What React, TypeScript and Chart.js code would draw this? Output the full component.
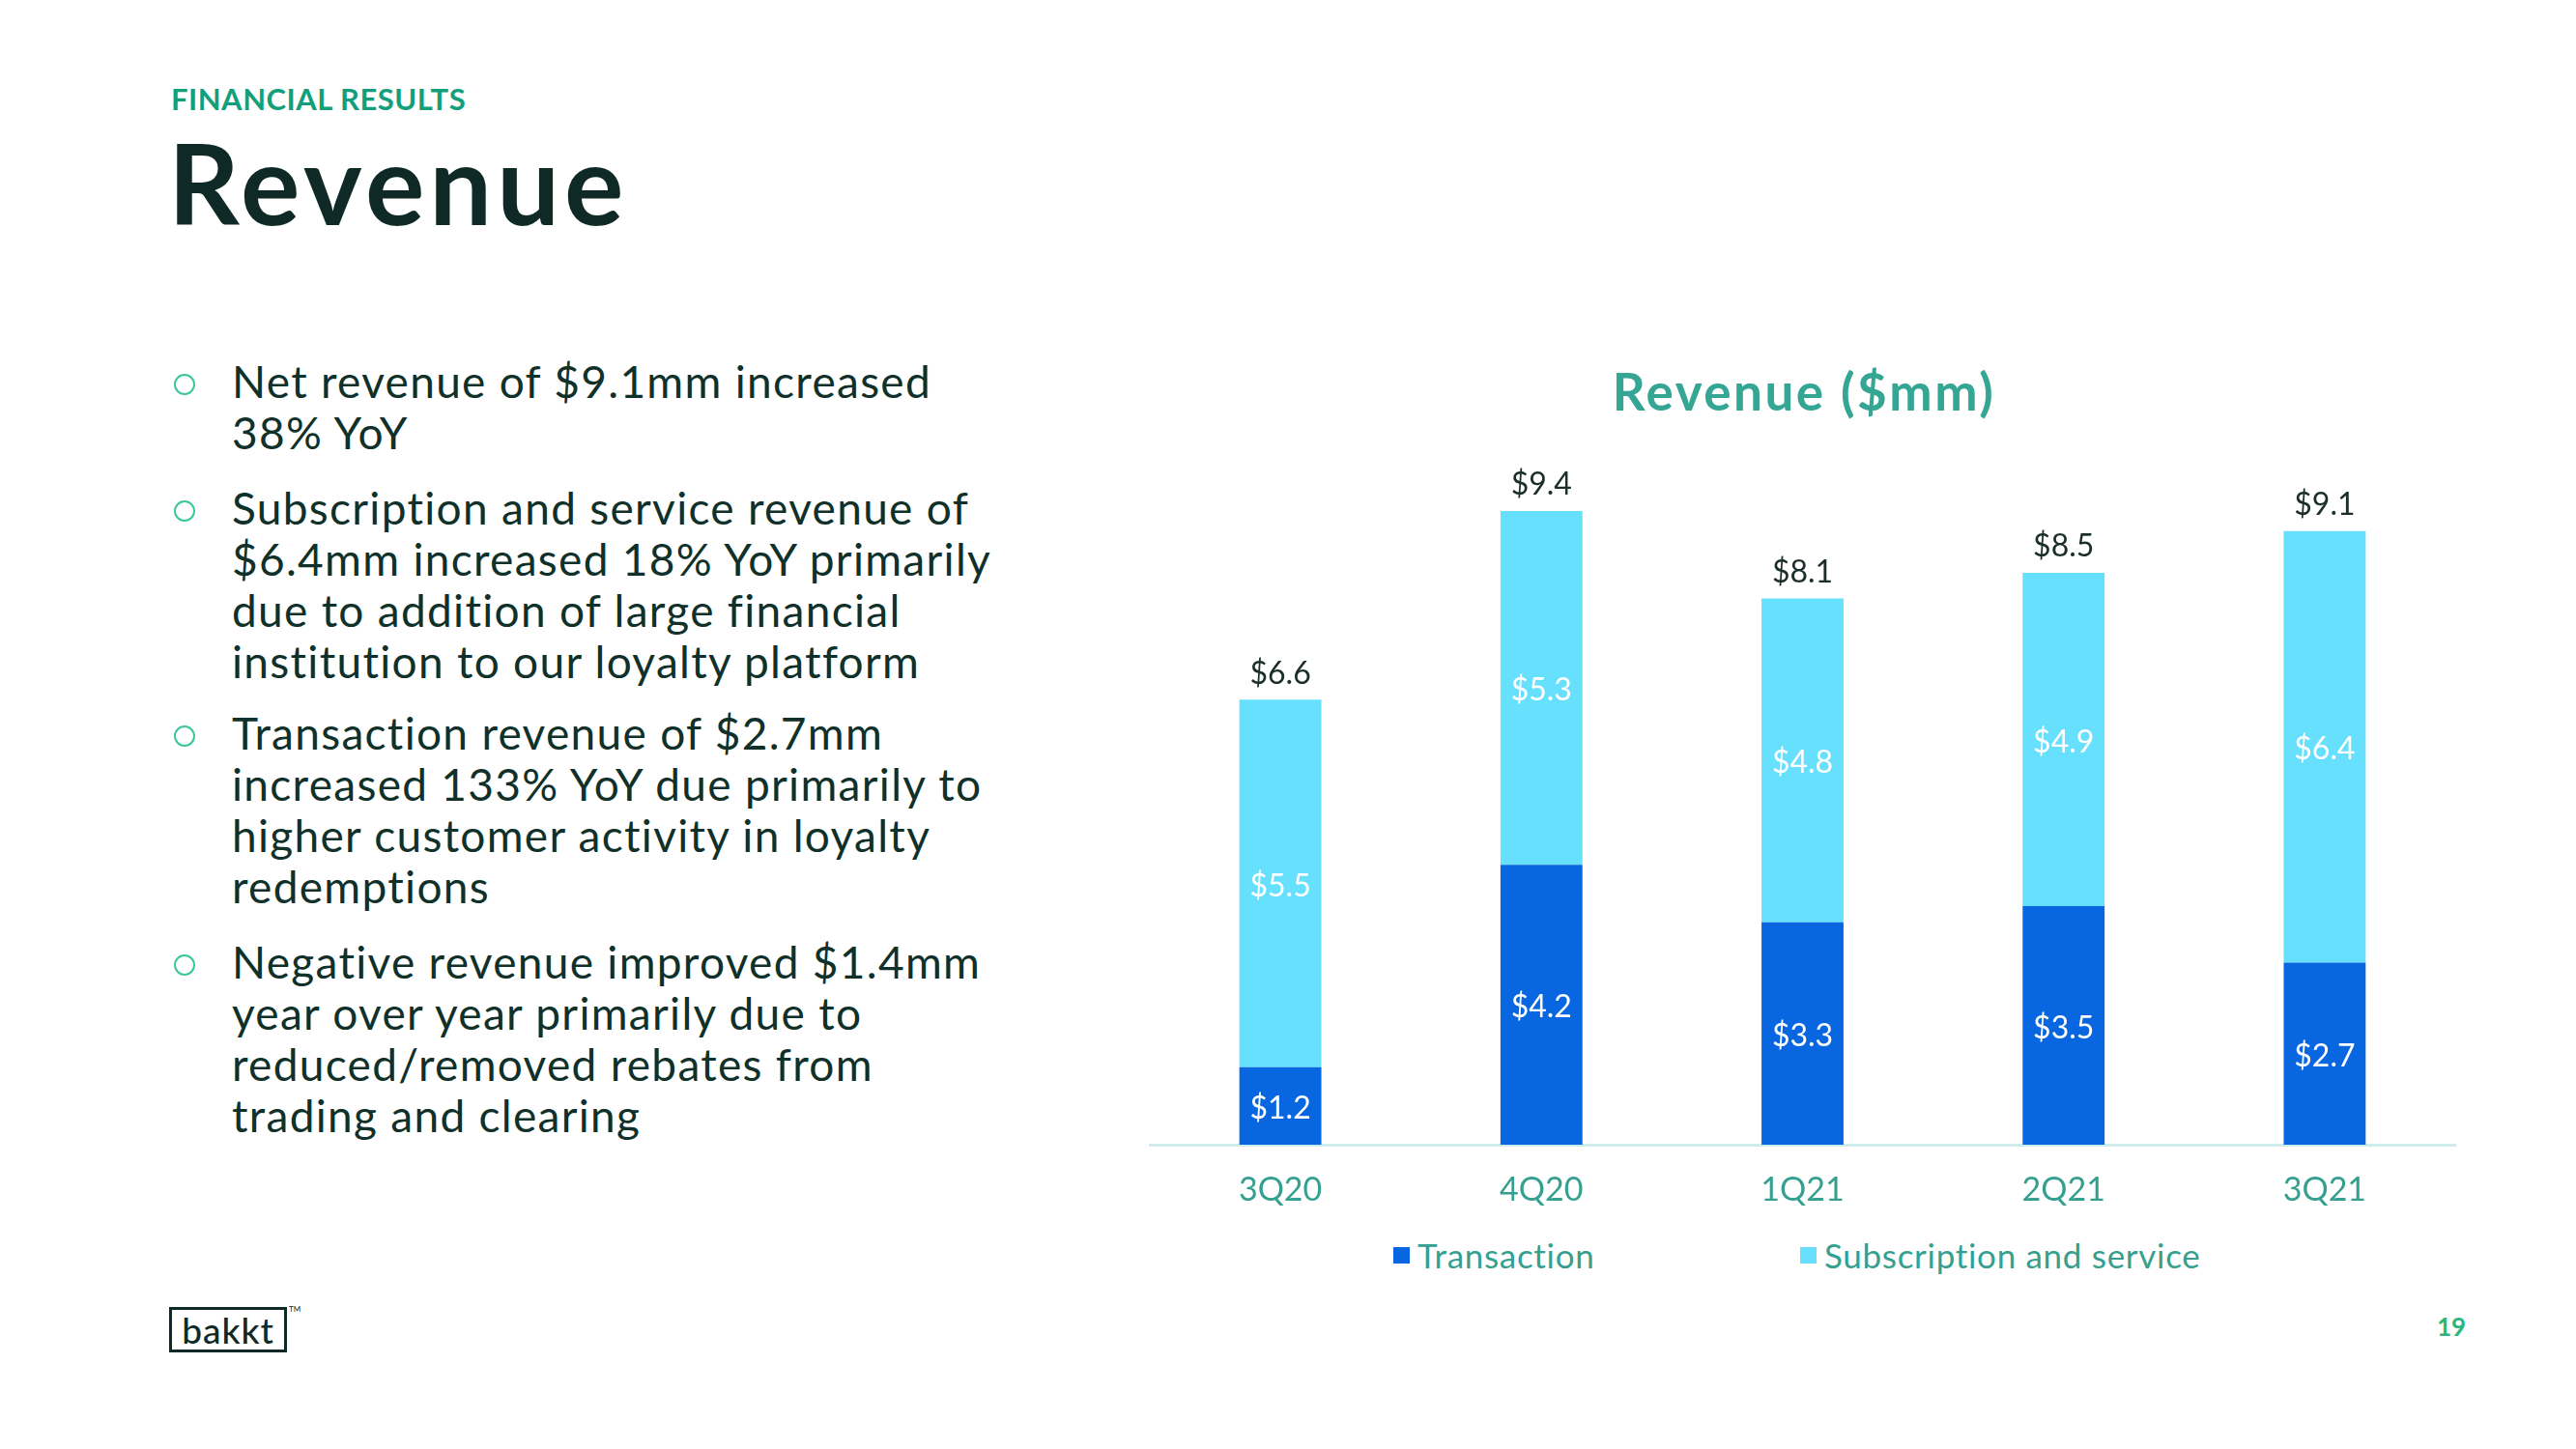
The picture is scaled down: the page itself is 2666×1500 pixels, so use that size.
import React, { useEffect, useRef } from "react";
import { Chart, registerables } from "chart.js";

Chart.register(...registerables);

const categories = ["3Q20", "4Q20", "1Q21", "2Q21", "3Q21"];
const transaction = [1.15, 4.15, 3.3, 3.54, 2.7];
const subscription = [5.45, 5.25, 4.8, 4.94, 6.4];
const transactionLabels = ["$1.2", "$4.2", "$3.3", "$3.5", "$2.7"];
const subscriptionLabels = ["$5.5", "$5.3", "$4.8", "$4.9", "$6.4"];
const totalLabels = ["$6.6", "$9.4", "$8.1", "$8.5", "$9.1"];
const seriesNames = ["Transaction", "Subscription and service"];

const FONT = "Lato, 'Noto Sans', sans-serif";
const C_TRANS = "#0766e0";
const C_SUB = "#66e0fc";
const C_TEAL = "#35a08f";
const C_DARK = "#10302a";

const labelPlugin = {
  id: "barLabels",
  afterDatasetsDraw(chart: any) {
    const ctx = chart.ctx;
    ctx.save();
    ctx.textAlign = "center";
    ctx.textBaseline = "middle";
    ctx.font = `32px ${FONT}`;
    const segs = [transactionLabels, subscriptionLabels];
    chart.data.datasets.forEach((_ds: any, i: number) => {
      const meta = chart.getDatasetMeta(i);
      meta.data.forEach((bar: any, j: number) => {
        const p = bar.getProps(["x", "y", "base"], true);
        ctx.fillStyle = "#ffffff";
        ctx.fillText(segs[i][j], p.x, (p.y + p.base) / 2 + 3);
      });
    });
    const topMeta = chart.getDatasetMeta(1);
    ctx.fillStyle = "#1c2e2b";
    topMeta.data.forEach((bar: any, j: number) => {
      ctx.fillText(totalLabels[j], bar.x, bar.y - 27);
    });
    ctx.restore();
  },
};

function RevenueChart() {
  const ref = useRef<HTMLCanvasElement | null>(null);
  useEffect(() => {
    if (!ref.current) return;
    const chart = new Chart(ref.current, {
      type: "bar",
      data: {
        labels: categories,
        datasets: [
          {
            label: seriesNames[0],
            data: transaction,
            backgroundColor: C_TRANS,
            barPercentage: 0.314,
            categoryPercentage: 1,
          },
          {
            label: seriesNames[1],
            data: subscription,
            backgroundColor: C_SUB,
            barPercentage: 0.314,
            categoryPercentage: 1,
          },
        ],
      },
      options: {
        responsive: false,
        animation: false,
        devicePixelRatio: 1,
        layout: { padding: { left: 40, right: 59, top: 47, bottom: 0 } },
        plugins: {
          legend: { display: false },
          title: { display: false },
          tooltip: { enabled: false },
        },
        scales: {
          x: {
            stacked: true,
            grid: { display: false, drawTicks: false },
            border: { display: true, color: "#cdeceb", width: 3 },
            ticks: {
              color: C_TEAL,
              font: { family: FONT, size: 34 },
              padding: 27,
            },
            afterFit: (scale: any) => {
              scale.height = 68;
            },
          },
          y: {
            stacked: true,
            display: false,
            min: 0,
            max: 10,
          },
        },
      },
      plugins: [labelPlugin],
    });
    return () => chart.destroy();
  }, []);
  return (
    <canvas
      ref={ref}
      width={1450}
      height={813}
      style={{ position: "absolute", left: 1150, top: 440, width: 1450, height: 813 }}
    />
  );
}

const bullets: string[][] = [
  ["Net revenue of $9.1mm increased", "38% YoY"],
  [
    "Subscription and service revenue of",
    "$6.4mm increased 18% YoY primarily",
    "due to addition of large financial",
    "institution to our loyalty platform",
  ],
  [
    "Transaction revenue of $2.7mm",
    "increased 133% YoY due primarily to",
    "higher customer activity in loyalty",
    "redemptions",
  ],
  [
    "Negative revenue improved $1.4mm",
    "year over year primarily due to",
    "reduced/removed rebates from",
    "trading and clearing",
  ],
];
const bulletTops = [394, 525, 758, 995];

export default function App() {
  const LH = 53;
  return (
    <div
      style={{
        position: "fixed",
        left: 0,
        top: 0,
        width: 2666,
        height: 1500,
        background: "#ffffff",
        overflow: "hidden",
        fontFamily: FONT,
      }}
    >
      <div
        style={{
          position: "absolute",
          left: 177,
          top: 82,
          fontSize: 31,
          fontWeight: 700,
          letterSpacing: 0.5,
          color: "#149f7c",
          lineHeight: "40px",
          whiteSpace: "nowrap",
        }}
      >
        FINANCIAL RESULTS
      </div>
      <div
        style={{
          position: "absolute",
          left: 174,
          top: 118,
          fontSize: 115,
          fontWeight: 700,
          letterSpacing: 5,
          color: "#0f2a26",
          lineHeight: "140px",
          whiteSpace: "nowrap",
        }}
      >
        Revenue
      </div>

      {bullets.map((lines, i) => (
        <div key={i}>
          <div
            style={{
              position: "absolute",
              left: 180,
              top: bulletTops[i] - 7,
              width: 18,
              height: 18,
              borderRadius: "50%",
              border: "2.5px solid #3cc59e",
            }}
          />
          <div
            style={{
              position: "absolute",
              left: 240,
              top: bulletTops[i] - LH / 2,
              fontSize: 46,
              letterSpacing: 1.3,
              lineHeight: `${LH}px`,
              color: C_DARK,
              whiteSpace: "nowrap",
            }}
          >
            {lines.map((l, k) => (
              <div key={k}>{l}</div>
            ))}
          </div>
        </div>
      ))}

      <div
        style={{
          position: "absolute",
          left: 1467,
          top: 372,
          width: 800,
          textAlign: "center",
          fontSize: 53,
          fontWeight: 700,
          letterSpacing: 2.5,
          color: "#35a594",
          lineHeight: "66px",
          whiteSpace: "nowrap",
        }}
      >
        Revenue ($mm)
      </div>

      <RevenueChart />

      {[
        { x: 1442, c: C_TRANS, t: seriesNames[0] },
        { x: 1863, c: C_SUB, t: seriesNames[1] },
      ].map((it, i) => (
        <div
          key={i}
          style={{
            position: "absolute",
            left: it.x,
            top: 1278,
            height: 42,
            display: "flex",
            alignItems: "center",
            whiteSpace: "nowrap",
          }}
        >
          <div style={{ width: 17, height: 17, background: it.c, marginRight: 8 }} />
          <div style={{ fontSize: 35, letterSpacing: 0.7, color: C_TEAL, lineHeight: "42px" }}>{it.t}</div>
        </div>
      ))}

      <div
        style={{
          position: "absolute",
          left: 175,
          top: 1353,
          width: 116,
          height: 41,
          border: "3px solid #0f2a26",
          display: "flex",
          alignItems: "center",
          justifyContent: "center",
          fontSize: 37,
          fontWeight: 500,
          letterSpacing: 1,
          color: "#0f2a26",
          lineHeight: "41px",
        }}
      >
        bakkt
      </div>
      <div style={{ position: "absolute", left: 299, top: 1350, fontSize: 8, color: "#0f2a26" }}>TM</div>

      <div
        style={{
          position: "absolute",
          left: 2522,
          top: 1358,
          fontSize: 26,
          fontWeight: 700,
          color: "#2cb67d",
          lineHeight: "30px",
        }}
      >
        19
      </div>
    </div>
  );
}
